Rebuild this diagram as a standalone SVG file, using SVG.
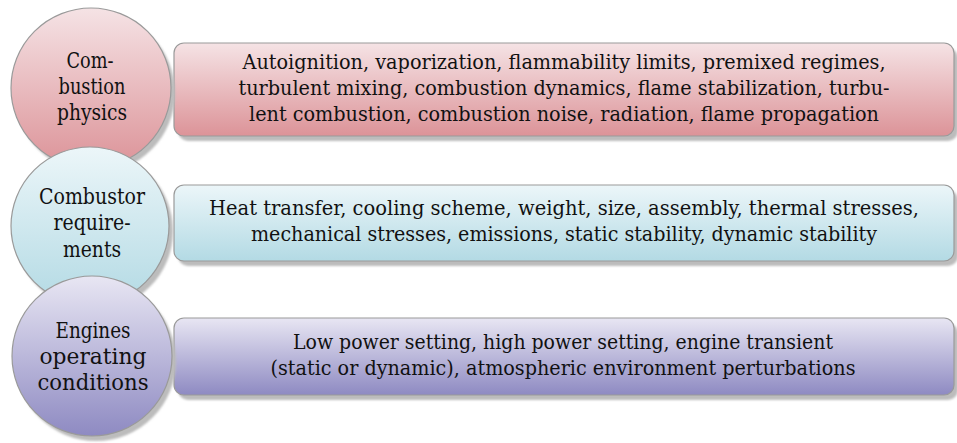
<svg xmlns="http://www.w3.org/2000/svg" width="957" height="443" viewBox="0 0 957 443">
  <defs>
    <linearGradient id="gRed" x1="0" y1="0" x2="0" y2="1">
      <stop offset="0" stop-color="#f5e3e5"/>
      <stop offset="1" stop-color="#dc9398"/>
    </linearGradient>
    <linearGradient id="gCyan" x1="0" y1="0" x2="0" y2="1">
      <stop offset="0" stop-color="#ecf6f9"/>
      <stop offset="1" stop-color="#b3dae4"/>
    </linearGradient>
    <linearGradient id="gPurple" x1="0" y1="0" x2="0" y2="1">
      <stop offset="0" stop-color="#e8e6f3"/>
      <stop offset="1" stop-color="#8e8ac2"/>
    </linearGradient>
    <filter id="soft" x="-10%" y="-10%" width="120%" height="120%">
      <feGaussianBlur stdDeviation="1.2"/>
    </filter>
  </defs>
  <style>
    .shadow { fill: #bcbcbc; filter: url(#soft); }
    .edge { stroke: #9a9a9a; stroke-width: 1.2; }
    .t { font-family: "DejaVu Serif Condensed", "DejaVu Serif", "Liberation Serif", serif; font-size: 20px; fill: #111; text-anchor: middle; }
    .c { font-size: 21.5px; }
  </style>
  <rect width="957" height="443" fill="#ffffff"/>

  <!-- detail boxes -->
  <g id="box-physics">
    <rect class="shadow" x="178" y="48" width="780" height="93" rx="10"/>
    <rect class="edge" x="174" y="43" width="780" height="93" rx="10" fill="url(#gRed)"/>
    <text class="t" x="564" y="69" textLength="643" lengthAdjust="spacingAndGlyphs">Autoignition, vaporization, flammability limits, premixed regimes,</text>
    <text class="t" x="564" y="95" textLength="651" lengthAdjust="spacingAndGlyphs">turbulent mixing, combustion dynamics, flame stabilization, turbu-</text>
    <text class="t" x="564" y="121" textLength="630" lengthAdjust="spacingAndGlyphs">lent combustion, combustion noise, radiation, flame propagation</text>
  </g>
  <g id="box-requirements">
    <rect class="shadow" x="178" y="190" width="780" height="76" rx="10"/>
    <rect class="edge" x="174" y="185" width="780" height="76" rx="10" fill="url(#gCyan)"/>
    <text class="t" x="564" y="215" textLength="710" lengthAdjust="spacingAndGlyphs">Heat transfer, cooling scheme, weight, size, assembly, thermal stresses,</text>
    <text class="t" x="564" y="241" textLength="626" lengthAdjust="spacingAndGlyphs">mechanical stresses, emissions, static stability, dynamic stability</text>
  </g>
  <g id="box-conditions">
    <rect class="shadow" x="178" y="323" width="780" height="77" rx="10"/>
    <rect class="edge" x="174" y="318" width="780" height="77" rx="10" fill="url(#gPurple)"/>
    <text class="t" x="563" y="349" textLength="540" lengthAdjust="spacingAndGlyphs">Low power setting, high power setting, engine transient</text>
    <text class="t" x="563" y="375" textLength="585" lengthAdjust="spacingAndGlyphs">(static or dynamic), atmospheric environment perturbations</text>
  </g>

  <!-- category circles, each lower one overlapping the one above -->
  <g id="circle-physics">
    <circle class="shadow" cx="95" cy="93" r="80"/>
    <circle class="edge" cx="91" cy="88" r="80" fill="url(#gRed)"/>
    <text class="t c" x="90" y="68" textLength="47" lengthAdjust="spacingAndGlyphs">Com-</text>
    <text class="t c" x="92" y="94" textLength="67" lengthAdjust="spacingAndGlyphs">bustion</text>
    <text class="t c" x="92" y="120" textLength="70" lengthAdjust="spacingAndGlyphs">physics</text>
  </g>
  <g id="circle-requirements">
    <circle class="shadow" cx="94" cy="231" r="79"/>
    <circle class="edge" cx="90" cy="226" r="79" fill="url(#gCyan)"/>
    <text class="t c" x="92" y="204" textLength="106" lengthAdjust="spacingAndGlyphs">Combustor</text>
    <text class="t c" x="92" y="230" textLength="77" lengthAdjust="spacingAndGlyphs">require-</text>
    <text class="t c" x="92" y="257" textLength="58" lengthAdjust="spacingAndGlyphs">ments</text>
  </g>
  <g id="circle-conditions">
    <circle class="shadow" cx="96" cy="361" r="80"/>
    <circle class="edge" cx="92" cy="356" r="80" fill="url(#gPurple)"/>
    <text class="t c" x="93" y="338" textLength="75" lengthAdjust="spacingAndGlyphs">Engines</text>
    <text class="t c" x="93" y="364" textLength="107" lengthAdjust="spacingAndGlyphs">operating</text>
    <text class="t c" x="93" y="390" textLength="111" lengthAdjust="spacingAndGlyphs">conditions</text>
  </g>

  <g id="connectors"/>
</svg>
